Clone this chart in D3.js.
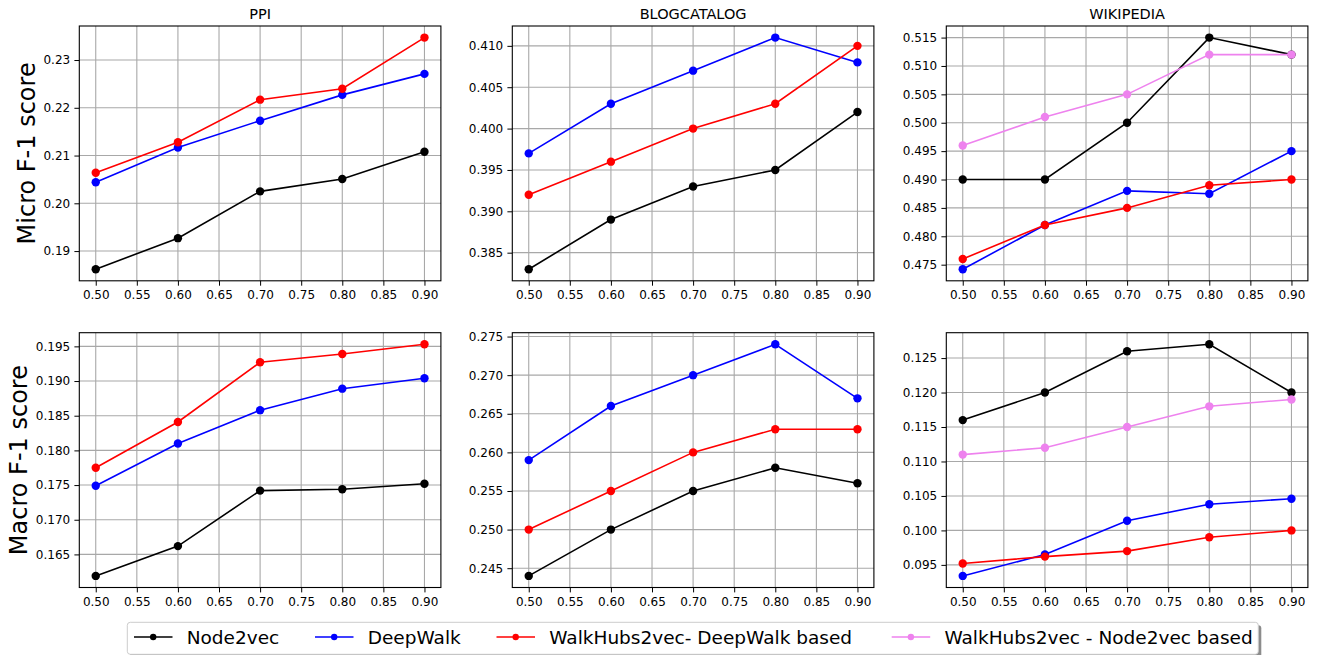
<!DOCTYPE html>
<html>
<head>
<meta charset="utf-8">
<script src="https://cdn.jsdelivr.net/npm/d3@7"></script>
<style>
  html, body { margin: 0; padding: 0; background: #fff; }
  svg { display: block; font-family: "DejaVu Sans", sans-serif; }
</style>
</head>
<body>
<svg id="chart" width="1320" height="655"></svg>
<script>
// Training fraction on the x axis
const fractions = [0.5, 0.6, 0.7, 0.8, 0.9];
const xTicks = [0.50, 0.55, 0.60, 0.65, 0.70, 0.75, 0.80, 0.85, 0.90];

const datasets = ["PPI", "BLOGCATALOG", "WIKIPEDIA"];
const metrics = ["Micro F-1 score", "Macro F-1 score"];
const methods = ["Node2vec", "DeepWalk", "WalkHubs2vec- DeepWalk based", "WalkHubs2vec - Node2vec based"];
const methodColors = ["#000000", "#0000ff", "#ff0000", "#ee82ee"];

// Micro F-1 scores
const ppiMicroNode2vec = [0.1862, 0.1927, 0.2025, 0.2051, 0.2108];
const ppiMicroDeepWalk = [0.2044, 0.2117, 0.2173, 0.2227, 0.2271];
const ppiMicroWalkHubsDW = [0.2064, 0.2128, 0.2217, 0.2240, 0.2347];

const blogMicroNode2vec = [0.383, 0.389, 0.393, 0.395, 0.402];
const blogMicroDeepWalk = [0.397, 0.403, 0.407, 0.411, 0.408];
const blogMicroWalkHubsDW = [0.392, 0.396, 0.400, 0.403, 0.410];

const wikiMicroNode2vec = [0.490, 0.490, 0.500, 0.515, 0.512];
const wikiMicroDeepWalk = [0.4742, 0.482, 0.488, 0.4875, 0.495];
const wikiMicroWalkHubsDW = [0.476, 0.482, 0.485, 0.489, 0.490];
const wikiMicroWalkHubsN2V = [0.496, 0.501, 0.505, 0.512, 0.512];

// Macro F-1 scores
const ppiMacroNode2vec = [0.1619, 0.1662, 0.1742, 0.1744, 0.1752];
const ppiMacroDeepWalk = [0.1749, 0.1810, 0.1858, 0.1889, 0.1904];
const ppiMacroWalkHubsDW = [0.1775, 0.1841, 0.1927, 0.1939, 0.1953];

const blogMacroNode2vec = [0.244, 0.250, 0.255, 0.258, 0.256];
const blogMacroDeepWalk = [0.259, 0.266, 0.270, 0.274, 0.267];
const blogMacroWalkHubsDW = [0.250, 0.255, 0.260, 0.263, 0.263];

const wikiMacroNode2vec = [0.116, 0.120, 0.126, 0.127, 0.120];
const wikiMacroDeepWalk = [0.0934, 0.0965, 0.1014, 0.1038, 0.1046];
const wikiMacroWalkHubsDW = [0.0952, 0.0962, 0.0970, 0.0990, 0.1000];
const wikiMacroWalkHubsN2V = [0.111, 0.112, 0.115, 0.118, 0.119];

// Y tick labels per panel
const ppiMicroTicks = [0.19, 0.20, 0.21, 0.22, 0.23];
const blogMicroTicks = [0.385, 0.390, 0.395, 0.400, 0.405, 0.410];
const wikiMicroTicks = [0.475, 0.480, 0.485, 0.490, 0.495, 0.500, 0.505, 0.510, 0.515];
const ppiMacroTicks = [0.165, 0.170, 0.175, 0.180, 0.185, 0.190, 0.195];
const blogMacroTicks = [0.245, 0.250, 0.255, 0.260, 0.265, 0.270, 0.275];
const wikiMacroTicks = [0.095, 0.100, 0.105, 0.110, 0.115, 0.120, 0.125];

// Panel grid: rows = metrics, columns = datasets; series listed in method order
const panels = [
  { row: 0, col: 0, series: [ppiMicroNode2vec, ppiMicroDeepWalk, ppiMicroWalkHubsDW, null], ticks: ppiMicroTicks, digits: 2 },
  { row: 0, col: 1, series: [blogMicroNode2vec, blogMicroDeepWalk, blogMicroWalkHubsDW, null], ticks: blogMicroTicks, digits: 3 },
  { row: 0, col: 2, series: [wikiMicroNode2vec, wikiMicroDeepWalk, wikiMicroWalkHubsDW, wikiMicroWalkHubsN2V], ticks: wikiMicroTicks, digits: 3 },
  { row: 1, col: 0, series: [ppiMacroNode2vec, ppiMacroDeepWalk, ppiMacroWalkHubsDW, null], ticks: ppiMacroTicks, digits: 3 },
  { row: 1, col: 1, series: [blogMacroNode2vec, blogMacroDeepWalk, blogMacroWalkHubsDW, null], ticks: blogMacroTicks, digits: 3 },
  { row: 1, col: 2, series: [wikiMacroNode2vec, wikiMacroDeepWalk, wikiMacroWalkHubsDW, wikiMacroWalkHubsN2V], ticks: wikiMacroTicks, digits: 3 }
];

// Layout
const colLeft = [79.3, 512.3, 946.3];
const panelW = 361.6;
const rowTop = [26, 332.7];
const panelH = 254.8;
const yLabelX = [35, 27];

const svg = d3.select("#chart");
svg.append("rect").attr("width", 1320).attr("height", 655).attr("fill", "#fff");

// Autoscale with 5% margins on each side
function padded(lo, hi) {
  const m = (hi - lo) * 0.05;
  return [lo - m, hi + m];
}

panels.forEach(p => {
  const x0 = colLeft[p.col], y0 = rowTop[p.row];
  const g = svg.append("g").attr("transform", `translate(${x0},${y0})`);

  const x = d3.scaleLinear().domain(padded(0.5, 0.9)).range([0, panelW]);
  const allVals = p.series.filter(s => s).flat();
  const y = d3.scaleLinear().domain(padded(d3.min(allVals), d3.max(allVals))).range([panelH, 0]);

  // Grid
  g.append("g").selectAll("line").data(xTicks).join("line")
    .attr("x1", d => x(d)).attr("x2", d => x(d))
    .attr("y1", 0).attr("y2", panelH)
    .attr("stroke", "#a8a8a8").attr("stroke-width", 1.1);
  g.append("g").selectAll("line").data(p.ticks).join("line")
    .attr("y1", d => y(d)).attr("y2", d => y(d))
    .attr("x1", 0).attr("x2", panelW)
    .attr("stroke", "#a8a8a8").attr("stroke-width", 1.1);

  // Axes
  const xAxis = d3.axisBottom(x).tickValues(xTicks).tickFormat(d3.format(".2f")).tickSize(4.9).tickPadding(4.6);
  const yAxis = d3.axisLeft(y).tickValues(p.ticks).tickFormat(d3.format("." + p.digits + "f")).tickSize(4.9).tickPadding(4.2);
  const gx = g.append("g").attr("transform", `translate(0,${panelH})`).call(xAxis);
  const gy = g.append("g").call(yAxis);
  [gx, gy].forEach(a => {
    a.attr("font-size", 12).attr("font-family", "DejaVu Sans");
    a.select(".domain").remove();
    a.selectAll("text").attr("font-size", 12).attr("fill", "#000");
    a.selectAll("line").attr("stroke", "#000").attr("stroke-width", 1);
  });

  // Lines and markers in method order
  const line = d3.line().x((d, i) => x(fractions[i])).y(d => y(d));
  p.series.forEach((s, k) => {
    if (!s) return;
    g.append("path").datum(s).attr("d", line)
      .attr("fill", "none").attr("stroke", methodColors[k]).attr("stroke-width", 1.6);
    g.append("g").selectAll("circle").data(s).join("circle")
      .attr("cx", (d, i) => x(fractions[i])).attr("cy", d => y(d)).attr("r", 4.2)
      .attr("fill", methodColors[k]);
  });

  // Frame
  g.append("rect").attr("width", panelW).attr("height", panelH)
    .attr("fill", "none").attr("stroke", "#000").attr("stroke-width", 1.1);

  if (p.row === 0) {
    svg.append("text").attr("x", x0 + panelW / 2).attr("y", 19)
      .attr("text-anchor", "middle").attr("font-size", 14.5).text(datasets[p.col]);
  }
  if (p.col === 0) {
    svg.append("text")
      .attr("transform", `translate(${yLabelX[p.row]},${y0 + panelH / 2}) rotate(-90)`)
      .attr("text-anchor", "middle").attr("font-size", 24).text(metrics[p.row]);
  }
});

// Legend
const legend = svg.append("g");
const lgX = 127.3, lgY = 622.3, lgW = 1131, lgH = 32;
legend.append("rect").attr("x", lgX + 3).attr("y", lgY + 3).attr("width", lgW).attr("height", lgH)
  .attr("rx", 3).attr("fill", "#000").attr("opacity", 0.45);
legend.append("rect").attr("x", lgX).attr("y", lgY).attr("width", lgW).attr("height", lgH)
  .attr("rx", 3).attr("fill", "#fff").attr("stroke", "#cccccc").attr("stroke-width", 1);

const handleX = [134, 315, 496.5, 891.7];
const legendY = 637;
methods.forEach((m, k) => {
  const hx = handleX[k];
  legend.append("line").attr("x1", hx).attr("x2", hx + 38.5).attr("y1", legendY).attr("y2", legendY)
    .attr("stroke", methodColors[k]).attr("stroke-width", 1.6);
  legend.append("circle").attr("cx", hx + 19.2).attr("cy", legendY).attr("r", 3.2).attr("fill", methodColors[k]);
  legend.append("text").attr("x", hx + 52.7).attr("y", legendY + 6.7)
    .attr("font-size", 18.5).attr("fill", "#000").text(m);
});
</script>
</body>
</html>
